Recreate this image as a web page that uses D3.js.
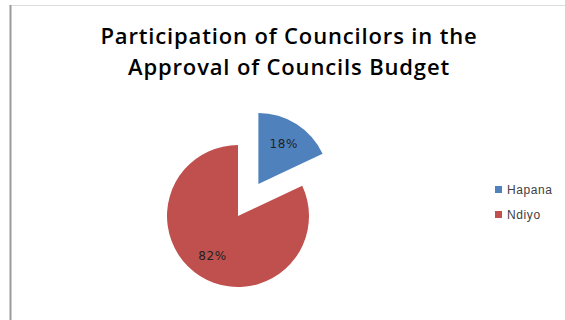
<!DOCTYPE html>
<html>
<head>
<meta charset="utf-8">
<script src="https://cdn.jsdelivr.net/npm/d3@7"></script>
<style>
  html, body { margin: 0; padding: 0; background: #fff; }
  svg { display: block; }
</style>
</head>
<body>
<svg id="chart" width="565" height="320"></svg>
<script>
// Survey answers: did councilors take part in approving the council budget?
const categories = ["Hapana", "Ndiyo"];
const shares = [18, 82];
const titleLines = ["Participation of Councilors in the", "Approval of Councils Budget"];

const colors = d3.scaleOrdinal().domain(categories).range(["#4F81BD", "#C0504D"]);

const svg = d3.select("#chart");

// frame edges
svg.append("line").attr("x1", 10).attr("x2", 565).attr("y1", 5.5).attr("y2", 5.5)
  .attr("stroke", "#dcdcdc").attr("stroke-width", 1);
svg.append("line").attr("x1", 10.5).attr("x2", 10.5).attr("y1", 5).attr("y2", 320)
  .attr("stroke", "#9a9a9a").attr("stroke-width", 2);

// title
const title = svg.append("text")
  .attr("text-anchor", "middle")
  .attr("font-family", "'Open Sans', sans-serif")
  .attr("font-weight", 600)
  .attr("font-size", 22)
  .attr("letter-spacing", 0.85)
  .attr("fill", "#000");
titleLines.forEach((t, i) => {
  title.append("tspan").attr("x", 289).attr("y", 44 + i * 31).text(t);
});

// pie
const cx = 238, cy = 216, r = 71;
const explode = { "Hapana": 38, "Ndiyo": 0 };

const pie = d3.pie().sort(null).value(d => d.value);
const arcs = pie(categories.map((c, i) => ({ cat: c, value: shares[i] })));
const arc = d3.arc().innerRadius(0).outerRadius(r);
const labelArc = d3.arc().innerRadius(r * 0.67).outerRadius(r * 0.67);

const g = svg.append("g").attr("transform", `translate(${cx},${cy})`);

const slices = g.selectAll("g.slice").data(arcs).join("g")
  .attr("class", "slice")
  .attr("transform", d => {
    const mid = (d.startAngle + d.endAngle) / 2;
    const e = explode[d.data.cat];
    return `translate(${e * Math.sin(mid)},${-e * Math.cos(mid)})`;
  });

slices.append("path")
  .attr("d", arc)
  .attr("fill", d => colors(d.data.cat));

slices.append("text")
  .attr("transform", d => {
    const [x, y] = labelArc.centroid(d);
    return `translate(${x},${y})`;
  })
  .attr("text-anchor", "middle")
  .attr("dy", "0.35em")
  .attr("font-family", "'DejaVu Sans', sans-serif")
  .attr("font-size", 12)
  .attr("letter-spacing", 0.6)
  .attr("fill", "#222")
  .text(d => d.data.value + "%");

// legend
const legend = svg.append("g").attr("transform", "translate(495,186)");
const items = legend.selectAll("g").data(categories).join("g")
  .attr("transform", (d, i) => `translate(0,${i * 25})`);
items.append("rect").attr("width", 7).attr("height", 7).attr("fill", d => colors(d));
items.append("text")
  .attr("x", 12).attr("y", 3.5).attr("dy", "0.35em")
  .attr("font-family", "'Liberation Sans', Arial, sans-serif")
  .attr("font-size", 12)
  .attr("letter-spacing", 0.6)
  .attr("fill", "#404040")
  .text(d => d);
</script>
</body>
</html>
